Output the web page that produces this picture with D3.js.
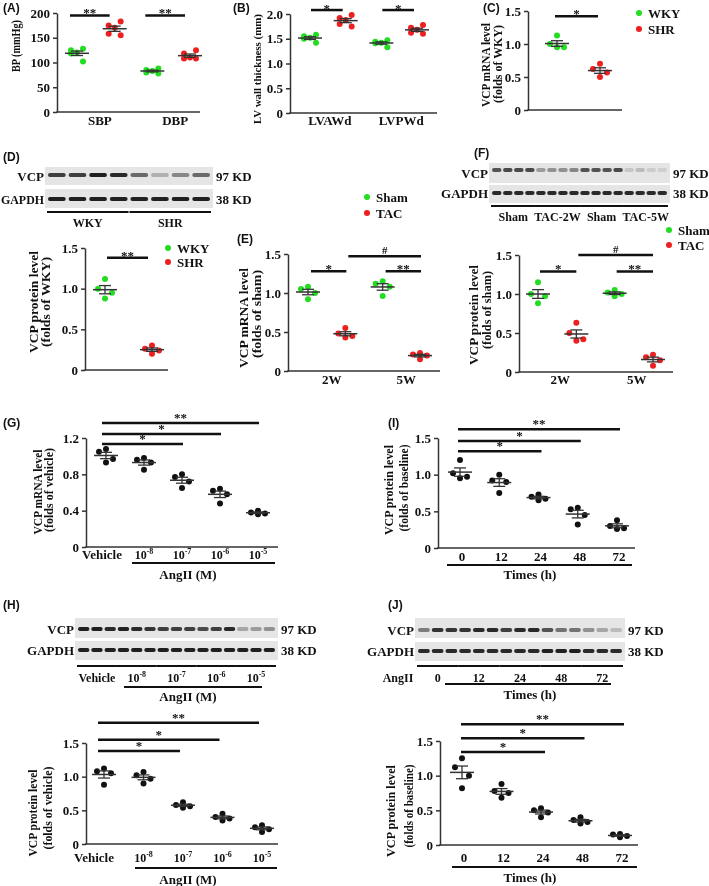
<!DOCTYPE html>
<html><head><meta charset="utf-8">
<script src="https://cdn.jsdelivr.net/npm/d3@7"></script>
<style>
body{margin:0;background:#fff}
svg{will-change:transform}
svg text{font-family:"Liberation Serif","Times New Roman",serif;font-weight:bold;fill:#111}
</style>
</head><body><svg id="fig" width="709" height="886"></svg>
<script>
// ---------------- DATA ----------------
const bpCategories = ["SBP", "DBP"];
const bpWKY = [[128,125,120,118,102],[88,85,83,80,78]];
const bpSHR = [[183,175,170,158,155],[125,118,110,108,108]];
const bpTicks = [0,50,100,150,200];

const lvCategories = ["LVAWd", "LVPWd"];
const lvWKY = [[1.58,1.55,1.52,1.50,1.42],[1.47,1.44,1.42,1.41,1.33]];
const lvSHR = [[1.98,1.92,1.88,1.80,1.75],[1.78,1.72,1.68,1.62,1.60]];
const lvTicks = [0,0.5,1.0,1.5,2.0];

const mrnaWKY = [1.13,1.0,0.95,0.95];
const mrnaSHR = [0.70,0.62,0.57,0.50];

const protWKY = [1.12,1.0,0.95,0.88];
const protSHR = [0.30,0.26,0.24,0.20];

const tacWeeks = ["2W", "5W"];
const tacMrnaSham = [[1.08,1.05,1.0,0.92],[1.15,1.12,1.08,0.96]];
const tacMrnaTAC  = [[0.55,0.48,0.45,0.43],[0.23,0.21,0.20,0.15]];
const tacProtSham = [[1.15,1.0,0.97,0.88],[1.05,1.02,1.0,0.97]];
const tacProtTAC  = [[0.63,0.50,0.42,0.40],[0.22,0.19,0.15,0.08]];

const angDoses = ["Vehicle", "-8", "-7", "-6", "-5"];
const angMrnaG = [[1.08,1.05,0.97,0.93],[0.98,0.96,0.93,0.85],[0.80,0.77,0.72,0.65],[0.64,0.62,0.58,0.48],[0.40,0.38,0.37,0.36]];
const angProtH = [[1.12,1.08,1.05,0.88],[1.07,1.02,0.97,0.90],[0.62,0.58,0.56,0.54],[0.45,0.40,0.38,0.35],[0.28,0.25,0.22,0.18]];
const timeHours = ["0", "12", "24", "48", "72"];
const timeProtI = [[1.20,1.02,0.97,0.95],[1.0,0.92,0.90,0.75],[0.73,0.70,0.67,0.65],[0.55,0.53,0.45,0.32],[0.38,0.30,0.27,0.26]];
const timeProtJ = [[1.25,1.12,1.0,0.82],[0.88,0.78,0.75,0.68],[0.53,0.50,0.47,0.40],[0.40,0.36,0.33,0.31],[0.16,0.15,0.13,0.11]];

const ticks15 = [0,0.5,1.0,1.5];
const ticks12 = [0,0.4,0.8,1.2];

// significance annotations (group indices, bar height in data units, label)
const sigA = [{a:0,b:1,v:195,t:"**"},{a:2,b:3,v:195,t:"**"}];
const sigB = [{a:0,b:1,v:2.08,t:"*"},{a:2,b:3,v:2.08,t:"*"}];
const sigC = [{a:0,b:1,v:1.42,t:"*"}];
const sigD = [{a:0,b:1,v:1.38,t:"**"}];
const sigE = [{a:0,b:1,v:1.28,t:"*"},{a:2,b:3,v:1.28,t:"**"},{a:1,b:3,v:1.47,t:"#"}];
const sigF = [{a:0,b:1,v:1.29,t:"*"},{a:2,b:3,v:1.29,t:"**"},{a:1,b:3,v:1.50,t:"#"}];
const sigG = [{a:0,b:2,v:1.134,t:"*"},{a:0,b:3,v:1.245,t:"*"},{a:0,b:4,v:1.366,t:"**"}];
const sigI = [{a:0,b:2,v:1.32,t:"*"},{a:0,b:3,v:1.46,t:"*"},{a:0,b:4,v:1.62,t:"**"}];
const sigH = [{a:0,b:2,v:1.38,t:"*"},{a:0,b:3,v:1.55,t:"*"},{a:0,b:4,v:1.80,t:"**"}];
const sigJ = [{a:0,b:2,v:1.34,t:"*"},{a:0,b:3,v:1.54,t:"*"},{a:0,b:4,v:1.74,t:"**"}];

// western blot band intensities (0..1)
const blotD_VCP   = [0.8,0.8,0.95,0.9, 0.6,0.25,0.45,0.6];
const blotD_GAPDH = [0.95,0.95,0.95,0.95, 0.95,0.95,0.95,0.95];
const blotD_groups = ["WKY", "SHR"];
const blotF_VCP   = [0.7,0.75,0.75,0.75, 0.35,0.4,0.4,0.45, 0.7,0.7,0.7,0.75, 0.15,0.2,0.12,0.1];
const blotF_GAPDH = [0.9,0.9,0.9,0.9, 0.9,0.9,0.9,0.9, 0.9,0.9,0.9,0.9, 0.9,0.9,0.9,0.9];
const blotF_groups = ["Sham", "TAC-2W", "Sham", "TAC-5W"];
const blotH_VCP   = [0.95,0.95,0.9, 0.95,0.9,0.85, 0.8,0.8,0.8, 0.75,0.8,0.9, 0.3,0.35,0.4];
const blotH_GAPDH = [0.95,0.95,0.95, 0.95,0.95,0.95, 0.95,0.95,0.95, 0.95,0.95,0.95, 0.95,0.95,0.95];
const blotJ_VCP   = [0.5,0.85,0.85, 0.85,0.9,0.9, 0.8,0.9,0.9, 0.7,0.55,0.55, 0.4,0.3,0.2];
const blotJ_GAPDH = [0.9,0.9,0.9, 0.9,0.9,0.9, 0.9,0.9,0.9, 0.95,0.95,0.95, 0.9,0.9,0.9];

// ---------------- DRAWING ----------------
const svg = d3.select("#fig");
const SANS = '"Liberation Sans",Arial,sans-serif';
const GREEN = "#22dd22", RED = "#ee1f1f", BLACK = "#111";
const fmt1 = d => d === 0 ? "0" : d3.format(".1f")(d);
const jitter = {4:[0,-7,7,0], 5:[6,-6,0,-6,6]};

function txt(x, y, t, size, anchor){
  return svg.append("text").attr("x", x).attr("y", y).attr("text-anchor", anchor || "middle")
    .style("font-size", (size || 13) + "px").text(t);
}
function panelLabel(t, x, y){
  svg.append("text").attr("x", x).attr("y", y).style("font-family", SANS).style("font-size", "12px").text(t);
}
function hline(x1, x2, y, w){
  svg.append("line").attr("x1", x1).attr("x2", x2).attr("y1", y).attr("y2", y)
    .attr("stroke", "#111").attr("stroke-width", w || 2);
}
function yTitle(lines){
  lines.forEach(l => {
    svg.append("text").attr("transform", `translate(${l.x},${l.cy}) rotate(-90)`)
      .attr("text-anchor", "middle").attr("dominant-baseline", "central")
      .attr("textLength", l.len).attr("lengthAdjust", "spacingAndGlyphs")
      .style("font-size", (l.fs || 13.5) + "px").text(l.t);
  });
}
function legend(x, y, items, gap){
  items.forEach((it, i) => {
    svg.append("circle").attr("cx", x).attr("cy", y + i * gap).attr("r", 3).attr("fill", it.c);
    txt(x + 9, y + i * gap + 4.5, it.t, 13, "start");
  });
}
function supLabel(x, y, base, sup){
  const t = svg.append("text").attr("x", x).attr("y", y).attr("text-anchor", "middle").style("font-size", "12px");
  t.append("tspan").text(base);
  if (sup) t.append("tspan").attr("dy", -5).style("font-size", "8px").text(sup);
  return t;
}

function dotPanel(o){
  const g = svg.append("g");
  const y = d3.scaleLinear().domain([0, d3.max(o.ticks)]).range([o.y0, o.yTop]);
  const x = d3.scalePoint().domain(d3.range(o.groups.length)).range(o.gx);
  const ax = d3.axisLeft(y).tickValues(o.ticks).tickSize(4).tickSizeOuter(0).tickFormat(o.fmt || fmt1);
  const axg = g.append("g").attr("transform", `translate(${o.ax},0)`).call(ax);
  axg.select(".domain").attr("stroke", "#333").attr("stroke-width", 1.5);
  axg.selectAll(".tick line").attr("stroke", "#333").attr("stroke-width", 1.5);
  axg.selectAll(".tick text").attr("fill", "#111").style("font-size", "13px")
    .style("font-family", '"Liberation Serif",serif').style("font-weight", "bold");
  g.append("line").attr("x1", o.ax - 0.75).attr("x2", o.xEnd).attr("y1", o.y0).attr("y2", o.y0)
    .attr("stroke", "#333").attr("stroke-width", 1.5);
  o.groups.forEach((grp, i) => {
    const vals = grp.values.slice().sort((a, b) => b - a);
    const jit = jitter[vals.length];
    g.selectAll(null).data(vals).join("circle")
      .attr("cx", (d, k) => x(i) + jit[k]).attr("cy", d => y(d)).attr("r", 3).attr("fill", grp.color);
    const m = d3.mean(vals), se = d3.deviation(vals) / Math.sqrt(vals.length);
    const cx = x(i);
    g.append("line").attr("x1", cx - 12).attr("x2", cx + 12).attr("y1", y(m)).attr("y2", y(m)).attr("stroke", "#333").attr("stroke-width", 1.5);
    g.append("line").attr("x1", cx - 6).attr("x2", cx + 6).attr("y1", y(m + se)).attr("y2", y(m + se)).attr("stroke", "#333").attr("stroke-width", 1.3);
    g.append("line").attr("x1", cx - 6).attr("x2", cx + 6).attr("y1", y(m - se)).attr("y2", y(m - se)).attr("stroke", "#333").attr("stroke-width", 1.3);
    g.append("line").attr("x1", cx).attr("x2", cx).attr("y1", y(m - se)).attr("y2", y(m + se)).attr("stroke", "#333").attr("stroke-width", 1.3);
  });
  (o.sig || []).forEach(s => {
    const x1 = x(s.a) + o.sp[0], x2 = x(s.b) + o.sp[1], yy = y(s.v);
    g.append("line").attr("x1", x1).attr("x2", x2).attr("y1", yy).attr("y2", yy).attr("stroke", "#111").attr("stroke-width", 2.5);
    const isHash = s.t === "#";
    g.append("text").attr("x", (x1 + x2) / 2).attr("y", isHash ? yy - 2 : yy + (o.starDy || 0))
      .attr("text-anchor", "middle")
      .style("font-size", isHash ? "11px" : "13px").text(s.t);
  });
  return {x, y};
}

// ===== (A) =====
panelLabel("(A)", 3, 12);
{
  const groups = [];
  bpCategories.forEach((c, i) => { groups.push({values: bpWKY[i], color: GREEN}); groups.push({values: bpSHR[i], color: RED}); });
  const p = dotPanel({ax:57, xEnd:200, y0:112, yTop:13, ticks:bpTicks, fmt:d3.format("d"), gx:[77,190], groups, sig:sigA, sp:[-7,-5], starDy:2});
  bpCategories.forEach((c, i) => txt((p.x(2*i) + p.x(2*i+1)) / 2 + 4, 125, c, 13));
  yTitle([{t:"BP (mmHg)", x:15, cy:46, len:52}]);
}
// ===== (B) =====
panelLabel("(B)", 233, 12);
{
  const groups = [];
  lvCategories.forEach((c, i) => { groups.push({values: lvWKY[i], color: GREEN}); groups.push({values: lvSHR[i], color: RED}); });
  const p = dotPanel({ax:290, xEnd:437, y0:113, yTop:14, ticks:lvTicks, gx:[310,417], groups, sig:sigB, sp:[1,-3], starDy:3});
  lvCategories.forEach((c, i) => txt((p.x(2*i) + p.x(2*i+1)) / 2 + 2, 125, c, 13));
  yTitle([{t:"LV wall thickness (mm)", x:257, cy:69, len:110, fs:11}]);
}
// ===== (C) =====
panelLabel("(C)", 483, 12);
{
  dotPanel({ax:528, xEnd:622, y0:110, yTop:11, ticks:ticks15, gx:[557,600],
    groups:[{values:mrnaWKY, color:GREEN},{values:mrnaSHR, color:RED}], sig:sigC, sp:[-2,-2], starDy:2});
  yTitle([{t:"VCP mRNA level", x:485, cy:65, len:84},{t:"(folds of WKY)", x:497, cy:64, len:78}]);
  legend(639, 13, [{t:"WKY", c:GREEN},{t:"SHR", c:RED}], 16);
}

// ---- blots ----
function blot(o){
  const n = o.rows[0].vals.length;
  const lane = d3.scaleBand().domain(d3.range(n)).range([o.x0 + 3, o.x1 - 3]).paddingInner(0.14);
  o.rows.forEach(r => {
    svg.append("rect").attr("x", o.x0).attr("y", r.top).attr("width", o.x1 - o.x0).attr("height", r.h).attr("fill", "#e5e5e5");
    svg.selectAll(null).data(r.vals).join("rect")
      .attr("x", (d, i) => lane(i)).attr("width", lane.bandwidth())
      .attr("y", r.band - 2).attr("height", 4).attr("rx", 2)
      .attr("fill", "#151515").attr("fill-opacity", d => d);
    const lt = txt(o.x0 - 1, r.ly, r.label, 13, "end");
    if (r.labLen) lt.attr("textLength", r.labLen).attr("lengthAdjust", "spacingAndGlyphs");
    txt(o.x1 + 3, r.ly, r.kd, 13, "start");
  });
  const per = n / o.groups.length;
  o.groups.forEach((gname, k) => {
    const a = lane(k * per) - 1, b = lane((k + 1) * per - 1) + lane.bandwidth() + 1;
    hline(a, b, o.lineY, 2);
    if (o.sup) supLabel((a + b) / 2 + (o.labDx || 0), o.labY, gname.base, gname.sup);
    else txt((a + b) / 2, o.labY, gname, 12);
  });
  return lane;
}

// ===== (D) =====
panelLabel("(D)", 3, 161);
blot({x0:45, x1:213, rows:[
  {top:167, h:18, band:175, vals:blotD_VCP, label:"VCP", ly:181, kd:"97 KD"},
  {top:189, h:19, band:199, vals:blotD_GAPDH, label:"GAPDH", ly:204, kd:"38 KD", labLen:43}],
  groups:blotD_groups, lineY:212, labY:227});
{
  dotPanel({ax:85, xEnd:168, y0:370, yTop:248, ticks:ticks15, gx:[105,152],
    groups:[{values:protWKY, color:GREEN},{values:protSHR, color:RED}], sig:sigD, sp:[2,-4], starDy:2});
  yTitle([{t:"VCP protein level", x:33, cy:302, len:102},{t:"(folds of WKY)", x:45, cy:302, len:90}]);
  legend(168, 248, [{t:"WKY", c:GREEN},{t:"SHR", c:RED}], 14);
}

// ===== (E) =====
panelLabel("(E)", 237, 243);
legend(367, 197, [{t:"Sham", c:GREEN},{t:"TAC", c:RED}], 16);
{
  const groups = [];
  tacWeeks.forEach((w, i) => { groups.push({values: tacMrnaSham[i], color: GREEN}); groups.push({values: tacMrnaTAC[i], color: RED}); });
  const p = dotPanel({ax:288, xEnd:440, y0:371, yTop:254, ticks:ticks15, gx:[308,420], groups, sig:sigE, sp:[3,1], starDy:2});
  tacWeeks.forEach((w, i) => txt((p.x(2*i) + p.x(2*i+1)) / 2 + 5, 384, w, 13));
  yTitle([{t:"VCP mRNA level", x:243, cy:318, len:100},{t:"(folds of sham)", x:256, cy:314, len:88}]);
}

// ===== (F) =====
panelLabel("(F)", 474, 157);
blot({x0:489, x1:670, rows:[
  {top:163, h:20, band:170, vals:blotF_VCP, label:"VCP", ly:178, kd:"97 KD"},
  {top:185, h:18, band:193, vals:blotF_GAPDH, label:"GAPDH", ly:198, kd:"38 KD"}],
  groups:blotF_groups, lineY:206, labY:221});
legend(669, 230, [{t:"Sham", c:GREEN},{t:"TAC", c:RED}], 15);
{
  const groups = [];
  tacWeeks.forEach((w, i) => { groups.push({values: tacProtSham[i], color: GREEN}); groups.push({values: tacProtTAC[i], color: RED}); });
  const p = dotPanel({ax:519, xEnd:673, y0:372, yTop:255, ticks:ticks15, gx:[538,653], groups, sig:sigF, sp:[2,0], starDy:2});
  tacWeeks.forEach((w, i) => txt((p.x(2*i) + p.x(2*i+1)) / 2 + 3, 384, w, 13));
  yTitle([{t:"VCP protein level", x:473, cy:315, len:100},{t:"(folds of sham)", x:486, cy:310, len:78}]);
}

// ===== (G) =====
panelLabel("(G)", 3, 427);
{
  const groups = angMrnaG.map(v => ({values: v, color: BLACK}));
  const p = dotPanel({ax:86, xEnd:278, y0:547, yTop:438, ticks:ticks12, gx:[106,258], groups, sig:sigG, sp:[-4,1], starDy:-1});
  angDoses.forEach((d, i) => i === 0 ? txt(p.x(i) - 4, 559, d, 13) : supLabel(p.x(i), 559, "10", d));
  hline(132, 275, 563, 2);
  txt(188, 579, "AngII (M)", 13);
  yTitle([{t:"VCP mRNA level", x:37, cy:492, len:85},{t:"(folds of vehicle)", x:48, cy:490, len:84}]);
}

// ===== (I) =====
panelLabel("(I)", 388, 427);
{
  const groups = timeProtI.map(v => ({values: v, color: BLACK}));
  const p = dotPanel({ax:438, xEnd:635, y0:548, yTop:438, ticks:ticks15, gx:[460,617], groups, sig:sigI, sp:[-2,3], starDy:-1});
  timeHours.forEach((h, i) => txt(p.x(i) + 2, 561, h, 13));
  hline(447, 632, 565, 2);
  txt(530, 579, "Times (h)", 13);
  yTitle([{t:"VCP protein level", x:388, cy:490, len:90},{t:"(folds of baseline)", x:403, cy:488, len:87}]);
}

// ===== (H) =====
panelLabel("(H)", 3, 609);
blot({x0:75, x1:278, rows:[
  {top:618, h:20, band:629, vals:blotH_VCP, label:"VCP", ly:634, kd:"97 KD"},
  {top:641, h:19, band:650, vals:blotH_GAPDH, label:"GAPDH", ly:655, kd:"38 KD"}],
  groups:angDoses.map((d, i) => i === 0 ? {base:d, sup:""} : {base:"10", sup:d}), sup:true, lineY:666, labY:682});
hline(124, 262, 687, 2);
txt(188, 701, "AngII (M)", 13);
{
  const groups = angProtH.map(v => ({values: v, color: BLACK}));
  const p = dotPanel({ax:86, xEnd:278, y0:844, yTop:743, ticks:ticks15, gx:[104,262], groups, sig:sigH, sp:[-6,-3], starDy:-1});
  angDoses.forEach((d, i) => i === 0 ? txt(p.x(i) - 10, 862, d, 13) : supLabel(p.x(i), 862, "10", d));
  hline(135, 277, 868, 2);
  txt(188, 884, "AngII (M)", 13);
  yTitle([{t:"VCP protein level", x:32, cy:813, len:87},{t:"(folds of vehicle)", x:47, cy:808, len:83}]);
}

// ===== (J) =====
panelLabel("(J)", 388, 609);
blot({x0:415, x1:625, rows:[
  {top:618, h:20, band:630, vals:blotJ_VCP, label:"VCP", ly:635, kd:"97 KD"},
  {top:642, h:19, band:651, vals:blotJ_GAPDH, label:"GAPDH", ly:656, kd:"38 KD"}],
  groups:timeHours, lineY:666, labY:682});
txt(398, 682, "AngII", 12);
hline(445, 611, 684, 1.8);
txt(530, 699, "Times (h)", 13);
{
  const groups = timeProtJ.map(v => ({values: v, color: BLACK}));
  const p = dotPanel({ax:440, xEnd:638, y0:845, yTop:741, ticks:ticks15, gx:[462,620], groups, sig:sigJ, sp:[-1,4], starDy:-1});
  timeHours.forEach((h, i) => txt(p.x(i) + 2, 862, h, 13));
  hline(452, 637, 867, 2);
  txt(530, 882, "Times (h)", 13);
  yTitle([{t:"VCP protein level", x:390, cy:811, len:92},{t:"(folds of baseline)", x:408, cy:806, len:83}]);
}
</script>
</body></html>
